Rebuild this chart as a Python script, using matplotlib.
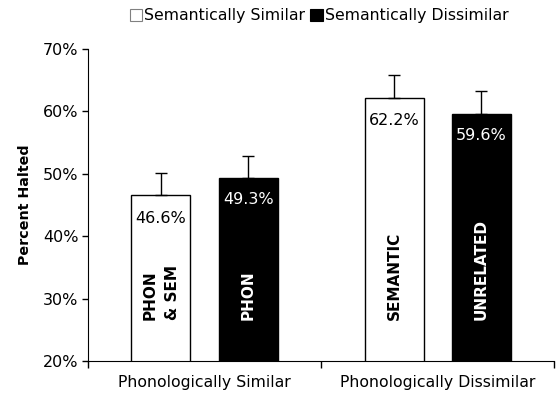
import numpy as np
import matplotlib.pyplot as plt
from matplotlib.patches import Patch

groups = ['Phonologically Similar', 'Phonologically Dissimilar']
series = ['Semantically Similar', 'Semantically Dissimilar']
similar = [46.6, 62.2]
dissimilar = [49.3, 59.6]
err_similar = [3.6, 3.7]
err_dissimilar = [3.6, 3.6]
names_similar = ['PHON\n& SEM', 'SEMANTIC']
names_dissimilar = ['PHON', 'UNRELATED']

plt.rcParams['font.family'] = 'DejaVu Sans'
fig = plt.figure(figsize=(5.57, 3.95), dpi=100)
ax = fig.add_axes([0.158, 0.086, 0.837, 0.79])

x = np.arange(len(groups))
w = 0.253
off = 0.187

ax.bar(x - off, similar, w, color='white', edgecolor='black', linewidth=1.0,
       yerr=[np.zeros(2), err_similar], capsize=4,
       error_kw=dict(ecolor='black', elinewidth=1.0, capthick=1.0), zorder=2)
ax.bar(x + off, dissimilar, w, color='black', edgecolor='black', linewidth=1.0,
       yerr=[np.zeros(2), err_dissimilar], capsize=4,
       error_kw=dict(ecolor='black', elinewidth=1.0, capthick=1.0), zorder=2)

for i in range(len(groups)):
    ax.text(x[i] - off, similar[i] - 3.7, f'{similar[i]:.1f}%', ha='center', va='center',
            fontsize=11.5, color='black', zorder=3)
    ax.text(x[i] + off, dissimilar[i] - 3.4, f'{dissimilar[i]:.1f}%', ha='center', va='center',
            fontsize=11.5, color='white', zorder=3)
    ax.text(x[i] - off, 26.6, names_similar[i], rotation=90, ha='center', va='bottom',
            fontsize=11, fontweight='bold', color='black', multialignment='left',
            linespacing=1.6, zorder=3)
    ax.text(x[i] + off, 26.6, names_dissimilar[i], rotation=90, ha='center', va='bottom',
            fontsize=11, fontweight='bold', color='white', zorder=3)

ax.set_ylim(20, 70)
ax.set_xlim(-0.5, 1.5)
ax.set_yticks(np.arange(20, 71, 10))
ax.set_yticklabels([f'{v}%' for v in range(20, 71, 10)], fontsize=11.5)
ax.set_xticks([0, 1])
ax.set_xticklabels(groups, fontsize=11.3)
ax.set_xticks([-0.5, 0.5, 1.5], minor=True)
ax.tick_params(axis='x', which='major', length=0, pad=10)
ax.tick_params(axis='x', which='minor', length=5, width=1.0, direction='out')
ax.tick_params(axis='y', length=4, width=1.0, direction='out', pad=3)
ax.spines['top'].set_visible(False)
ax.spines['right'].set_visible(False)
ax.set_ylabel('Percent Halted', fontsize=10.3, fontweight='bold', labelpad=8)

handles = [Patch(facecolor='white', edgecolor='#808080', linewidth=0.8),
           Patch(facecolor='black', edgecolor='black', linewidth=0.8)]
fig.legend(handles=handles, labels=series, loc='upper center',
           bbox_to_anchor=(0.573, 1.015), ncol=2, frameon=False, fontsize=11.3,
           handlelength=0.8, handleheight=0.8, handletextpad=0.15, columnspacing=0.3)

fig.savefig('out.png', dpi=100)
